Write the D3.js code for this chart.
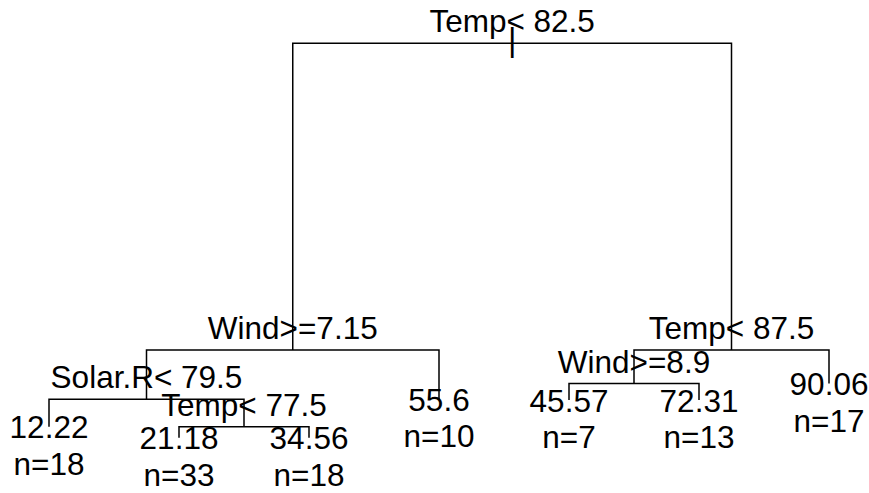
<!DOCTYPE html>
<html>
<head>
<meta charset="utf-8">
<script src="https://cdn.jsdelivr.net/npm/d3@7"></script>
<style>
  body { margin: 0; background: #fff; }
  text { font-family: "Liberation Sans", Arial, Helvetica, sans-serif; fill: #000; }
</style>
</head>
<body>
<div id="chart"></div>
<script>
// split nodes (rpart numbering: children of k are 2k and 2k+1)
var splitNode = [1, 2, 4, 9, 3, 6];
var splitText = ["Temp< 82.5", "Wind>=7.15", "Solar.R< 79.5", "Temp< 77.5", "Temp< 87.5", "Wind>=8.9"];
// drop from each split node down to its children (deviance units, thousands)
var splitDrop = [60.16, 9.67, 5.37, 2.18, 6.57, 3.24];

// leaves, left to right
var leafNode = [8, 18, 19, 5, 12, 13, 7];
var leafValue = ["12.22", "21.18", "34.56", "55.6", "45.57", "72.31", "90.06"];
var leafN = [18, 33, 18, 10, 7, 13, 17];

var width = 869,
    height = 493,
    fontSize = 31.5;

var svg = d3.select("#chart").append("svg")
    .attr("width", width)
    .attr("height", height);

var x = d3.scalePoint()
    .domain(leafNode)
    .range([49, 829]);

// depth of every node below the root
var depth = {1: 0};
splitNode.forEach(function(k, i) {
  depth[2 * k] = depth[k] + splitDrop[i];
  depth[2 * k + 1] = depth[k] + splitDrop[i];
});
var maxDepth = d3.max(leafNode, function(k) { return depth[k]; });

var y = d3.scaleLinear()
    .domain([0, maxDepth])
    .range([43.3, 437.8]);

// x of a node: leaves on the point scale, inner nodes halfway between children
var xPos = {};
function nodeX(k) {
  if (xPos[k] !== undefined) return xPos[k];
  if (leafNode.indexOf(k) >= 0) xPos[k] = x(k);
  else xPos[k] = (nodeX(2 * k) + nodeX(2 * k + 1)) / 2;
  return xPos[k];
}

var branches = svg.append("g")
    .attr("fill", "none")
    .attr("stroke", "#000")
    .attr("stroke-width", 1.5);

branches.selectAll("path")
    .data(splitNode)
  .enter().append("path")
    .attr("d", function(k) {
      var yp = y(depth[k]), yc = y(depth[2 * k]);
      return "M" + nodeX(2 * k) + "," + yc + "V" + yp +
             "H" + nodeX(2 * k + 1) + "V" + yc;
    });

// root marker
svg.append("text")
    .attr("x", nodeX(1))
    .attr("y", y(0) + 8)
    .attr("text-anchor", "middle")
    .style("font-size", (fontSize + 1) + "px")
    .text("|");

svg.append("g").selectAll("text")
    .data(splitNode)
  .enter().append("text")
    .attr("x", function(k) { return nodeX(k); })
    .attr("y", function(k) { return y(depth[k]) - 11; })
    .attr("text-anchor", "middle")
    .style("font-size", fontSize + "px")
    .text(function(k, i) { return splitText[i]; });

var leaves = svg.append("g").selectAll("g")
    .data(leafNode)
  .enter().append("g")
    .attr("transform", function(k) {
      return "translate(" + nodeX(k) + "," + y(depth[k]) + ")";
    });

leaves.append("text")
    .attr("y", 11.5)
    .attr("text-anchor", "middle")
    .style("font-size", fontSize + "px")
    .text(function(k, i) { return leafValue[i]; });

leaves.append("text")
    .attr("y", 48)
    .attr("text-anchor", "middle")
    .style("font-size", fontSize + "px")
    .text(function(k, i) { return "n=" + leafN[i]; });
</script>
</body>
</html>
